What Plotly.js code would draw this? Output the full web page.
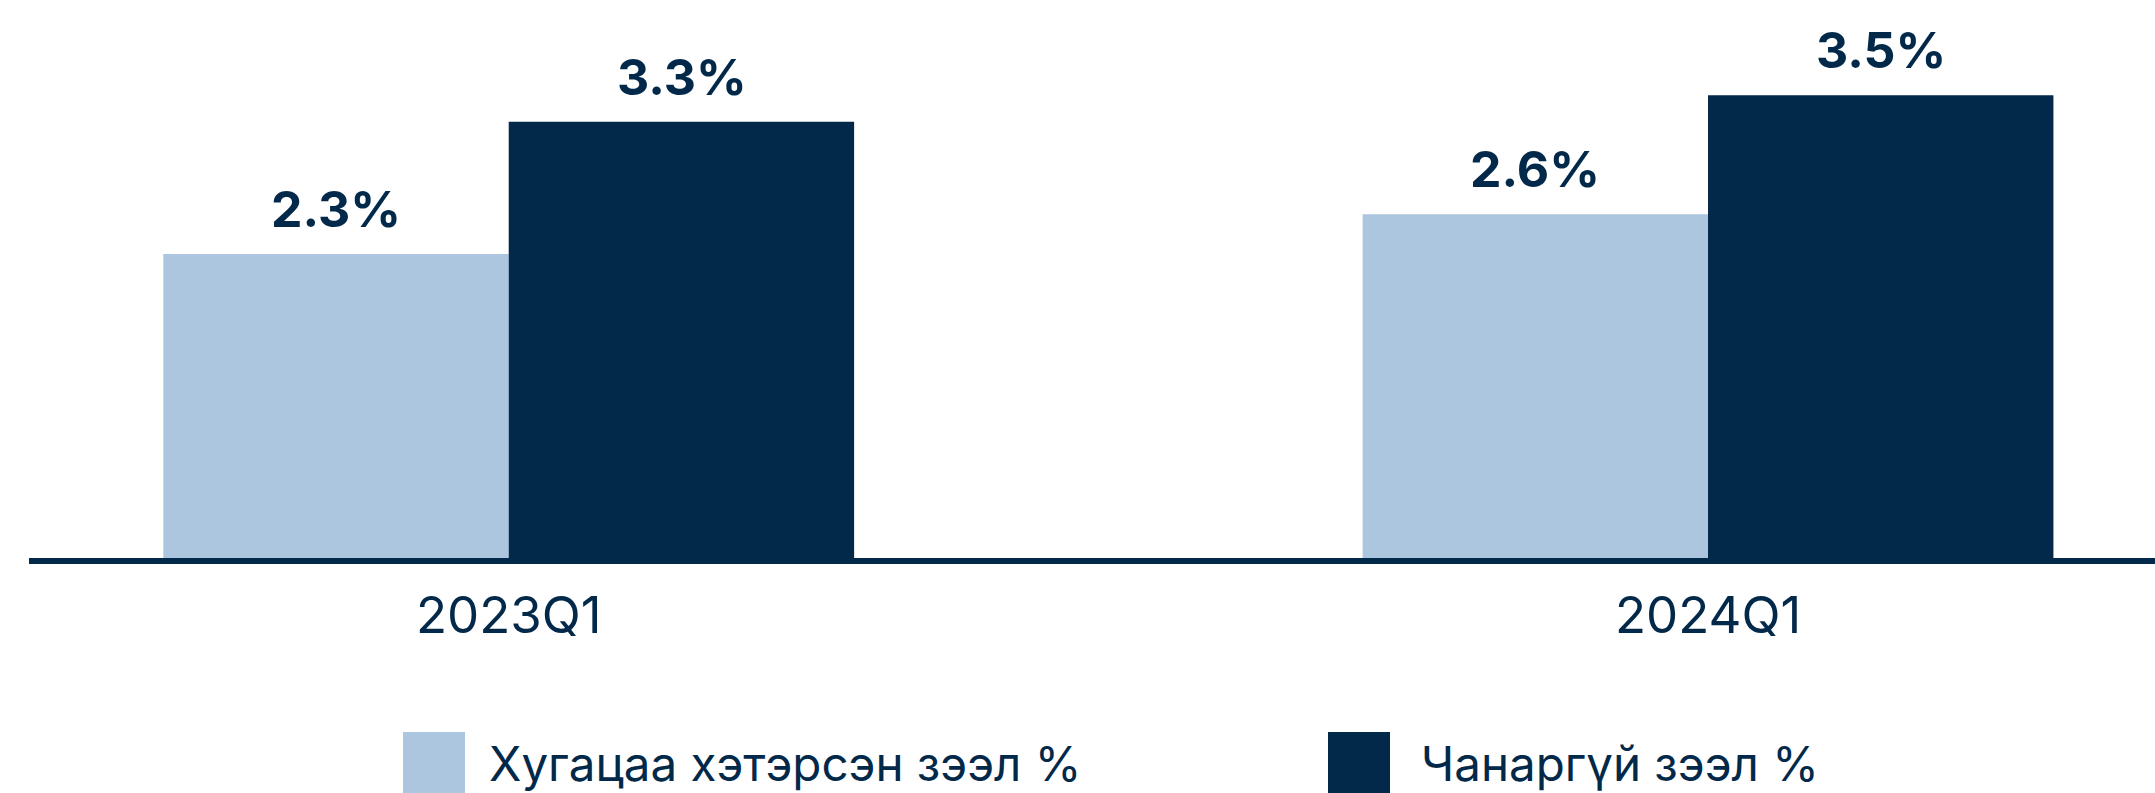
<!DOCTYPE html>
<html>
<head>
<meta charset="utf-8">
<script src="https://cdn.plot.ly/plotly-3.0.1.min.js"></script>
<style>html,body{margin:0;padding:0;background:#fff;}#chart{width:2155px;height:793px;}</style>
</head>
<body>
<div id="chart"></div>
<script>
// ---- data ----
const categories = ["2023Q1", "2024Q1"];
const seriesNames = ["Хугацаа хэтэрсэн зээл %", "Чанаргүй зээл %"];
const overdueLoans = [2.3, 2.6];
const nonPerformingLoans = [3.3, 3.5];

// ---- style ----
const W = 2155, H = 793;
const M = {l: 29, r: 0, t: 0, b: 235};
const colors = ["#ADC6DF", "#03294A"];
const textColor = "#03294A";
const font = "Inter, 'Noto Sans', sans-serif";

const seriesValues = [overdueLoans, nonPerformingLoans];

const traces = seriesValues.map((vals, i) => ({
  type: "bar",
  name: seriesNames[i],
  x: categories,
  y: vals,
  marker: {color: colors[i], line: {width: 0}},
  showlegend: false,
  hoverinfo: "skip"
}));

// value labels via annotations anchored to data
const barHalfOffsetPx = 173;
const annotations = [];
seriesValues.forEach((vals, i) => {
  vals.forEach((v, j) => {
    annotations.push({
      x: categories[j], y: v, xref: "x", yref: "y",
      text: v.toFixed(1) + "%",
      showarrow: false,
      xshift: i === 0 ? -barHalfOffsetPx : barHalfOffsetPx,
      yanchor: "bottom", yshift: 13,
      font: {family: font, size: 50, color: textColor, weight: 700}
    });
  });
});

// manual legend
const plotW = W - M.l - M.r, plotH = H - M.t - M.b;
const px2x = p => (p - M.l) / plotW;
const px2y = p => (H - M.b - p) / plotH;
const legendItems = [
  {sx: 403, tx: 487},
  {sx: 1328, tx: 1419}
];
const shapes = [];
legendItems.forEach((it, i) => {
  shapes.push({
    type: "rect", xref: "paper", yref: "paper",
    x0: px2x(it.sx), x1: px2x(it.sx + 62),
    y0: px2y(732), y1: px2y(800),
    fillcolor: colors[i], line: {width: 0}, layer: "above"
  });
  annotations.push({
    xref: "paper", yref: "paper",
    x: px2x(it.tx), y: px2y(763),
    xanchor: "left", yanchor: "middle",
    text: seriesNames[i], showarrow: false,
    font: {family: font, size: 47.5, color: textColor}
  });
});

const layout = {
  width: W, height: H,
  margin: M,
  paper_bgcolor: "#fff", plot_bgcolor: "#fff",
  barmode: "group", bargap: 0.424, bargroupgap: 0,
  showlegend: false,
  xaxis: {
    type: "category",
    range: [-0.4, 1.3727],
    showline: true, linewidth: 6, linecolor: "#03294A",
    ticks: "", showgrid: false, zeroline: false,
    ticklabelstandoff: 8,
    tickfont: {family: font, size: 51, color: textColor},
    fixedrange: true
  },
  yaxis: {
    range: [0, 4.221],
    visible: false, showgrid: false, zeroline: false,
    fixedrange: true
  },
  annotations: annotations,
  shapes: shapes,
  font: {family: font, color: textColor}
};

Plotly.newPlot("chart", traces, layout, {displayModeBar: false, staticPlot: true});
</script>
</body>
</html>
